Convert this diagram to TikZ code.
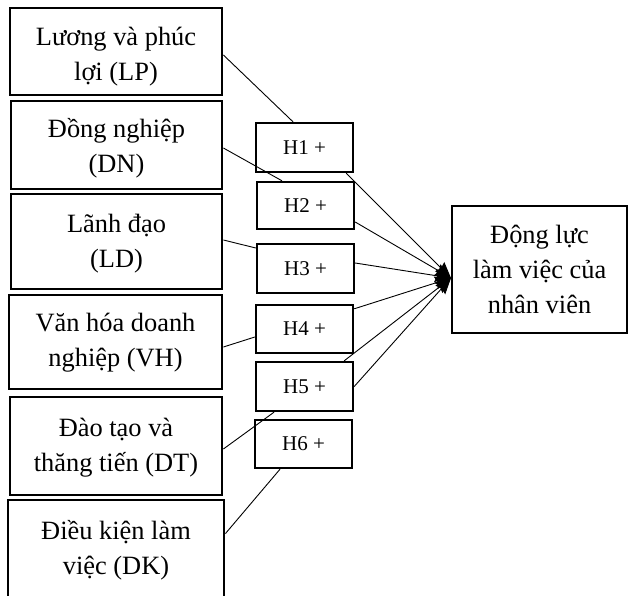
\documentclass[tikz,border=0pt]{standalone}
\usepackage{fontspec}
\setmainfont{Liberation Serif}
\usetikzlibrary{arrows.meta}
\begin{document}
\begin{tikzpicture}[x=1pt,y=-1pt,
  factor/.style={draw, line width=2.8pt, inner sep=0pt},
  ftext/.style={align=center, inner sep=0pt, font=\fontsize{26.4}{35}\selectfont},
  hyp/.style={draw, line width=2.4pt, inner sep=0pt, minimum width=97pt, font=\fontsize{21}{25}\selectfont},
  outc/.style={draw, line width=2pt, align=center, inner sep=0pt, font=\fontsize{26.4}{35}\selectfont},
  link/.style={line width=0.9pt},
  arr/.style={line width=0.9pt, -{Stealth[length=16pt,width=13pt,inset=2pt]}}]
\clip (0,0) rectangle (628,595);
% factor boxes
\node[factor, minimum width=212pt, minimum height=87pt] (LP) at (116,51.5) {};
\node[factor, minimum width=211pt, minimum height=88pt] (DN) at (116.5,145) {};
\node[factor, minimum width=211pt, minimum height=95pt] (LD) at (116.5,241.5) {};
\node[factor, minimum width=213pt, minimum height=94pt] (VH) at (115.5,342) {};
\node[factor, minimum width=212pt, minimum height=98pt] (DT) at (116,446) {};
\node[factor, minimum width=216pt, minimum height=100pt] (DK) at (116,550) {};
\node[ftext] (LPt) at ([yshift=-5pt]LP.center) {Lương và phúc\\lợi (LP)};
\node[ftext] (DNt) at ([yshift=-3pt]DN.center) {Đồng nghiệp\\(DN)};
\node[ftext] (LDt) at ([yshift=-2pt]LD.center) {Lãnh đạo\\(LD)};
\node[ftext] (VHt) at ([yshift=-1pt]VH.center) {Văn hóa doanh\\nghiệp (VH)};
\node[ftext] (DTt) at ([yshift=-2pt]DT.center) {Đào tạo và\\thăng tiến (DT)};
\node[ftext] (DKt) at (DK.center) {Điều kiện làm\\việc (DK)};
% hypothesis boxes
\node[hyp, minimum height=49pt] (H1) at (304.5,147.5) {H1 +};
\node[hyp, minimum height=47pt] (H2) at (305.5,205.5) {H2 +};
\node[hyp, minimum height=49pt] (H3) at (305.5,268.5) {H3 +};
\node[hyp, minimum height=48pt] (H4) at (304.5,329) {H4 +};
\node[hyp, minimum height=49pt] (H5) at (304.5,386.5) {H5 +};
\node[hyp, minimum height=48pt] (H6) at (303.5,444) {H6 +};
% outcome
\node[outc, minimum width=175pt, minimum height=127pt] (M) at (539.5,269.5) {Động lực\\làm việc của\\nhân viên};
\coordinate (tip) at ([yshift=-8.5pt]M.west);
% links factor -> hypothesis
\draw[link] ([yshift=-3.5pt]LP.east) -- ([xshift=-11.5pt]H1.north);
\draw[link] ([yshift=-3pt]DN.east) -- ([xshift=-23.5pt]H2.north);
\draw[link] ([yshift=1.5pt]LD.east) -- ([yshift=20.5pt]H3.west);
\draw[link] ([yshift=-5pt]VH.east) -- ([yshift=-8pt]H4.west);
\draw[link] ([yshift=-3pt]DT.east) -- ([xshift=-30.5pt]H5.south);
\draw[link] ([yshift=-35pt]DK.north east) -- ([xshift=-23.5pt]H6.south);
% arrows hypothesis -> outcome
\draw[arr] ([xshift=-8pt]H1.south east) -- (tip);
\draw[arr] ([yshift=-16.5pt]H2.east) -- (tip);
\draw[arr] ([yshift=5.5pt]H3.east) -- (tip);
\draw[arr] ([yshift=-5pt]H4.north east) -- (tip);
\draw[arr] ([xshift=-10pt]H5.north east) -- (tip);
\draw[arr] (H5.east) -- (tip);
\end{tikzpicture}
\end{document}
